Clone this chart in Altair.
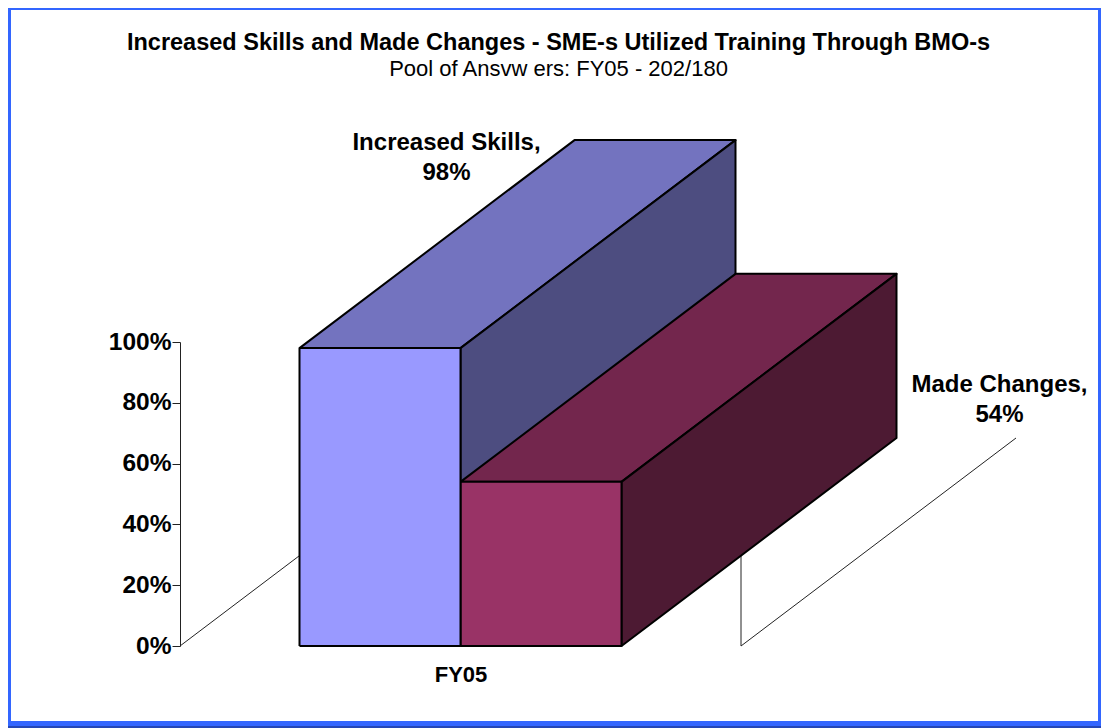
import altair as alt
import pandas as pd

series = ["Increased Skills", "Made Changes"]
values = [98, 54]
category = "FY05"
y_ticks = [0, 20, 40, 60, 80, 100]
front_colors = ["#9999FF", "#993366"]
top_colors = ["#7373BF", "#73264D"]
side_colors = ["#4D4D80", "#4D1A33"]
title_text = "Increased Skills and Made Changes - SME-s Utilized Training Through BMO-s"
subtitle_text = "Pool of Ansvw ers: FY05 - 202/180"
label_lines = [["Increased Skills,", "98%"], ["Made Changes,", "54%"]]

# chart geometry, in plot units: x in px from the wall, y in percent
BAR_W = 161
BAR_X0 = 119.5
DEPTH_X = 275
DEPTH_Y = 208 / 3.04
PLOT_W, PLOT_H = 921, 304
FONT = "Liberation Sans"

x_scale = alt.Scale(domain=[0, PLOT_W], range=[0, PLOT_W], nice=False, zero=False)
y_scale = alt.Scale(domain=[0, 100], range=[PLOT_H, 0], nice=False, zero=False)


def page_x(px):
    return px - 180


def page_y(py):
    return (646 - py) / 3.04


x_axis = alt.Axis(
    values=[BAR_X0 + BAR_W],
    labelExpr=f"'{category}'",
    domain=False,
    ticks=False,
    grid=False,
    title=None,
    labelFont=FONT,
    labelFontWeight="bold",
    labelFontSize=22,
    labelColor="#000000",
    labelPadding=18,
)
y_axis = alt.Axis(
    values=y_ticks,
    labelExpr="datum.value + '%'",
    grid=False,
    title=None,
    domainColor="#222222",
    tickColor="#222222",
    tickSize=8,
    labelFont=FONT,
    labelFontWeight="bold",
    labelFontSize=24.5,
    labelColor="#000000",
    labelPadding=1,
)
X = alt.X("x:Q", scale=x_scale, axis=x_axis)
Y = alt.Y("y:Q", scale=y_scale, axis=y_axis)


def face(points, fill):
    rows = [{"x": a, "y": b, "i": i} for i, (a, b) in enumerate(points + points[:1])]
    return (
        alt.Chart(pd.DataFrame(rows))
        .mark_line(fill=fill, filled=True, stroke="#000000", strokeWidth=2, strokeJoin="round", interpolate="linear")
        .encode(x=X, y=Y, order="i:Q")
    )


def thin(points):
    rows = [{"x": a, "y": b, "i": i} for i, (a, b) in enumerate(points)]
    return (
        alt.Chart(pd.DataFrame(rows))
        .mark_line(stroke="#222222", strokeWidth=1)
        .encode(x=X, y=Y, order="i:Q")
    )


def bar_faces(k):
    x0 = BAR_X0 + k * BAR_W
    x1 = x0 + BAR_W
    v = values[k]
    front = [(x0, 0), (x1, 0), (x1, v), (x0, v)]
    top = [(x0, v), (x1, v), (x1 + DEPTH_X, v + DEPTH_Y), (x0 + DEPTH_X, v + DEPTH_Y)]
    side = [(x1, 0), (x1 + DEPTH_X, DEPTH_Y), (x1 + DEPTH_X, v + DEPTH_Y), (x1, v)]
    return front, top, side


f0, t0, s0 = bar_faces(0)
f1, t1, s1 = bar_faces(1)

# outer frame
frame_rows = [
    {"x": -172, "x2": -169, "y": page_y(8), "y2": page_y(728), "c": "#3366FF"},
    {"x": 918, "x2": 921, "y": page_y(8), "y2": page_y(728), "c": "#3366FF"},
    {"x": -172, "x2": 921, "y": page_y(8), "y2": page_y(10), "c": "#3366FF"},
    {"x": -172, "x2": 921, "y": page_y(721), "y2": page_y(726), "c": "#3366FF"},
    {"x": -172, "x2": 921, "y": page_y(726), "y2": page_y(728), "c": "#2447B8"},
]
frame = (
    alt.Chart(pd.DataFrame(frame_rows))
    .mark_rect()
    .encode(x=X, x2="x2:Q", y=Y, y2="y2:Q", color=alt.Color("c:N", scale=None))
)

labels = pd.DataFrame(
    {
        "x": [page_x(446.5), page_x(999.5)],
        "y": [page_y(143), page_y(385)],
        "t": ["\n".join(l) for l in label_lines],
    }
)
label_marks = (
    alt.Chart(labels)
    .mark_text(font=FONT, fontWeight="bold", fontSize=24, lineBreak="\n", lineHeight=30, align="center", baseline="middle", color="#000000")
    .encode(x=X, y=Y, text="t:N")
)

back_x = BAR_X0 + 2 * BAR_W + 119.5

chart = alt.layer(
    frame,
    thin([(0, 0), (DEPTH_X, DEPTH_Y)]),
    thin([(back_x, DEPTH_Y), (back_x, 0), (back_x + DEPTH_X, DEPTH_Y)]),
    face(t0, top_colors[0]),
    face(s0, side_colors[0]),
    face(t1, top_colors[1]),
    face(s1, side_colors[1]),
    face(f1, front_colors[1]),
    face(f0, front_colors[0]),
    label_marks,
).properties(
    width=PLOT_W,
    height=PLOT_H,
    title=alt.TitleParams(
        text=title_text,
        subtitle=subtitle_text,
        anchor="middle",
        frame="group",
        dx=-82,
        offset=-72,
        font=FONT,
        fontWeight="bold",
        fontSize=23.5,
        color="#000000",
        subtitleFont=FONT,
        subtitleFontSize=22,
        subtitleFontWeight="normal",
        subtitleColor="#000000",
        subtitlePadding=5,
    ),
    padding={"left": 172, "top": 334, "right": 0, "bottom": 82},
    autosize=alt.AutoSizeParams(type="none"),
).configure_view(stroke=None)

chart.save("out.html", embed_options={"renderer": "svg", "actions": False})
